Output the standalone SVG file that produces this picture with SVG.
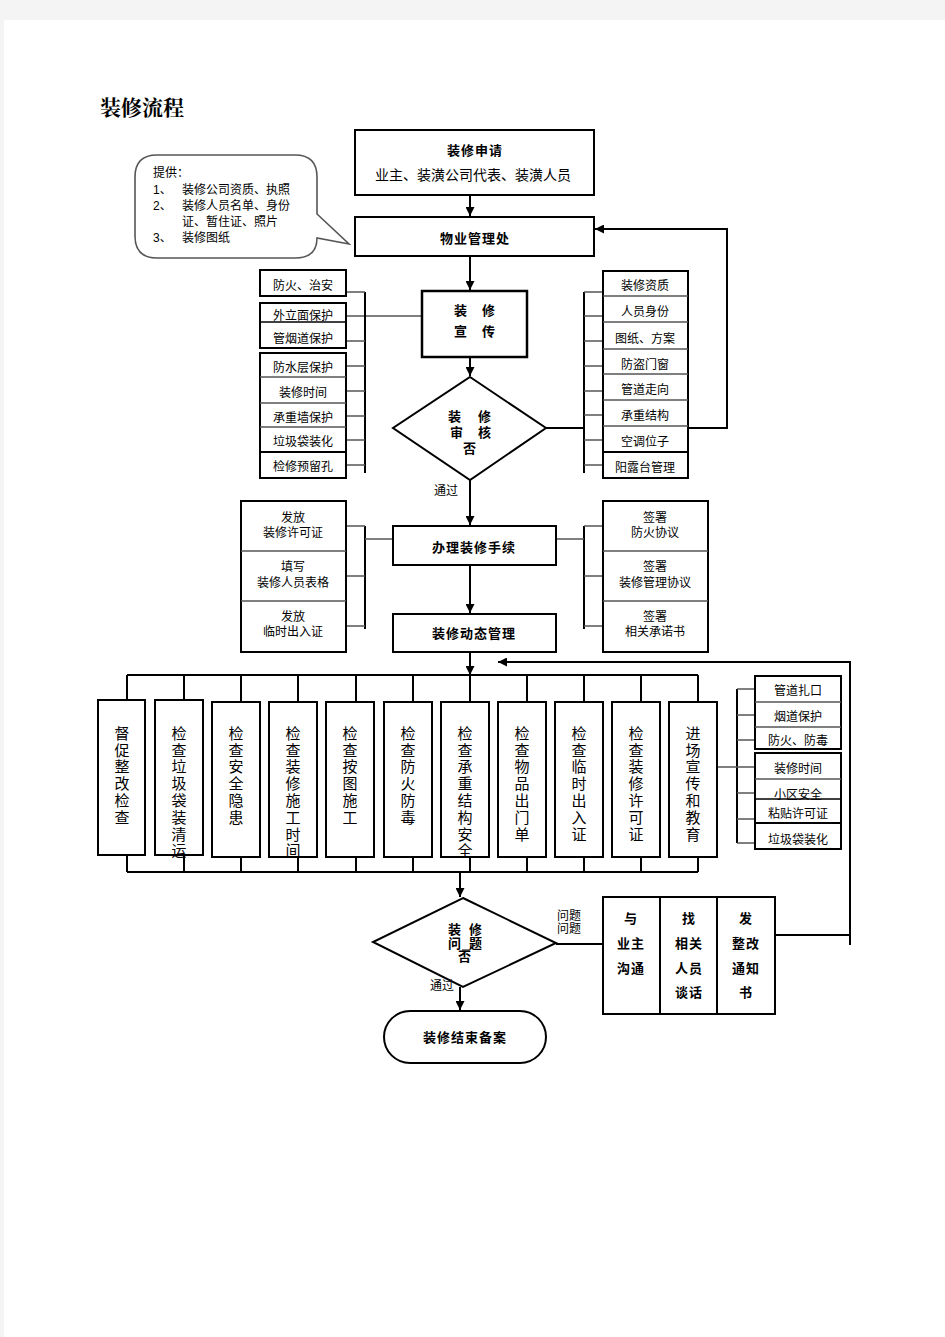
<svg xmlns="http://www.w3.org/2000/svg" width="945" height="1337" viewBox="0 0 945 1337">
<defs>
<marker id="ah" viewBox="0 0 10 10" refX="10" refY="5" markerWidth="9" markerHeight="9" markerUnits="userSpaceOnUse" orient="auto">
<path d="M0,0 L10,5 L0,10 Z" fill="#000"/>
</marker>
<style>
text{font-family:"Liberation Sans","Noto Sans CJK SC",sans-serif;fill:#000;dominant-baseline:central;text-anchor:middle}
.t12{font-size:12px}
.b13{font-size:13px;font-weight:bold;letter-spacing:1px}
.v{font-size:15px}
.box{fill:#fff;stroke:#000;stroke-width:2}
.thin{fill:none;stroke:#000;stroke-width:1.6}
.ln{fill:none;stroke:#000;stroke-width:2}
.gl{fill:none;stroke:#555;stroke-width:1.5}
.arr{fill:none;stroke:#000;stroke-width:2;marker-end:url(#ah)}
</style>
</defs>
<rect x="0" y="0" width="945" height="1337" fill="#f4f4f4"/>
<rect x="4" y="20" width="941" height="1317" fill="#fff"/>
<text x="100" y="106" style="font-family:'Noto Serif CJK SC','Noto Sans CJK SC',serif;font-size:21px;font-weight:bold;text-anchor:start">装修流程</text>

<g id="connectors">
<line class="arr" x1="470" y1="195" x2="470" y2="216"/>
<line class="arr" x1="470" y1="256" x2="470" y2="290"/>
<line class="arr" x1="470" y1="357" x2="470" y2="376"/>
<line class="arr" x1="470" y1="480" x2="470" y2="525"/>
<line class="arr" x1="470" y1="565" x2="470" y2="613"/>
<line class="arr" x1="470" y1="652" x2="470" y2="675"/>
<polyline class="arr" points="688,428 727,428 727,229 595,229"/>
<polyline class="arr" points="775,935 850,935 850,945 850,662 498,662"/>
<line class="ln" x1="546" y1="428" x2="584" y2="428"/>
<line class="gl" x1="346" y1="316" x2="422" y2="316"/>
<line class="ln" x1="365" y1="292" x2="365" y2="473"/>
<path class="gl" d="M346,292H365M346,341H365M346,366H365M346,391H365M346,416H365M346,440H365M346,465H365"/>
<line class="ln" x1="584" y1="292" x2="584" y2="473"/>
<path class="gl" d="M584,292H603M584,316H603M584,341H603M584,366H603M584,391H603M584,415H603M584,440H603M584,465H603"/>
<line class="ln" x1="365" y1="526" x2="365" y2="629"/>
<path class="gl" d="M346,526H365M346,576H365M346,626H365M365,539H393"/>
<line class="ln" x1="584" y1="526" x2="584" y2="629"/>
<path class="gl" d="M584,526H603M584,576H603M584,626H603M556,539H584"/>
<line class="ln" x1="127" y1="675" x2="698" y2="675"/>
<line class="ln" x1="127" y1="872" x2="698" y2="872"/>
<path class="ln" d="M127,675V700M184,675V700M241,675V702M298,675V702M356,675V702M413,675V702M470,675V702M527,675V702M584,675V702M641,675V702M698,675V702"/>
<path class="ln" d="M127,847V872M184,847V872M241,849V872M298,849V872M356,849V872M413,849V872M470,849V872M527,849V872M584,849V872M641,849V872M698,849V872"/>
<line class="ln" x1="737" y1="689" x2="737" y2="843"/>
<path class="gl" d="M737,689H755M737,715H755M737,740H755M737,767H755M737,793H755M737,819H755M737,843H755M717,767H737"/>
<line class="arr" x1="460" y1="872" x2="460" y2="897"/>
<line class="ln" x1="556" y1="944" x2="603" y2="944"/>
<line class="arr" x1="460" y1="987" x2="460" y2="1010"/>
</g>

<g id="bubble">
<path d="M157,155 H295 Q317,155 317,177 V214 L349,244 L317,238 Q317,258 295,258 H157 Q135,258 135,236 V177 Q135,155 157,155 Z" fill="#fff" stroke="#555" stroke-width="1.6"/>
<g class="t12" style="text-anchor:start">
<text x="153" y="173" style="text-anchor:start">提供：</text>
<text x="153" y="190" style="text-anchor:start">1、</text><text x="182" y="190" style="text-anchor:start">装修公司资质、执照</text>
<text x="153" y="206" style="text-anchor:start">2、</text><text x="182" y="206" style="text-anchor:start">装修人员名单、身份</text>
<text x="182" y="222" style="text-anchor:start">证、暂住证、照片</text>
<text x="153" y="238" style="text-anchor:start">3、</text><text x="182" y="238" style="text-anchor:start">装修图纸</text>
</g>
</g>

<g id="apply">
<rect class="box" x="355" y="130" width="239" height="65"/>
<text class="b13" x="475" y="150">装修申请</text>
<text x="473" y="175" style="font-size:14px">业主、装潢公司代表、装潢人员</text>
</g>

<g id="property">
<rect class="box" x="355" y="217" width="239" height="39"/>
<text class="b13" x="475" y="238">物业管理处</text>
</g>

<g id="publicity">
<rect class="box" x="422" y="291" width="105" height="66" style="stroke-width:2.5"/>
<text class="b13" x="461" y="310">装</text><text class="b13" x="489" y="310">修</text>
<text class="b13" x="461" y="331">宣</text><text class="b13" x="489" y="331">传</text>
</g>

<g id="left-list">
<rect class="box" x="260" y="270" width="86" height="26"/>
<text class="t12" x="303" y="286">防火、治安</text>
<rect class="box" x="260" y="303" width="86" height="45"/>
<text class="t12" x="303" y="316">外立面保护</text>
<line class="thin" x1="260" y1="322" x2="346" y2="322"/>
<text class="t12" x="303" y="339">管烟道保护</text>
<rect class="box" x="260" y="353" width="86" height="99"/>
<text class="t12" x="303" y="368">防水层保护</text>
<line class="gl" x1="260" y1="377" x2="346" y2="377"/>
<text class="t12" x="303" y="393">装修时间</text>
<line class="gl" x1="260" y1="403" x2="346" y2="403"/>
<text class="t12" x="303" y="418">承重墙保护</text>
<line class="gl" x1="260" y1="427" x2="346" y2="427"/>
<text class="t12" x="303" y="442">垃圾袋装化</text>
<rect class="box" x="260" y="452" width="86" height="26"/>
<text class="t12" x="303" y="467">检修预留孔</text>
</g>

<g id="right-list">
<rect class="box" x="603" y="271" width="85" height="207"/>
<path class="gl" d="M603,296H688M603,322H688M603,349H688M603,374H688M603,400H688M603,426H688"/>
<line class="ln" x1="603" y1="452" x2="688" y2="452"/>
<text class="t12" x="645" y="286">装修资质</text>
<text class="t12" x="645" y="312">人员身份</text>
<text class="t12" x="645" y="339">图纸、方案</text>
<text class="t12" x="645" y="365">防盗门窗</text>
<text class="t12" x="645" y="390">管道走向</text>
<text class="t12" x="645" y="416">承重结构</text>
<text class="t12" x="645" y="442">空调位子</text>
<text class="t12" x="645" y="468">阳露台管理</text>
</g>

<g id="review">
<polygon points="470,377 546,428 470,480 393,428" fill="#fff" stroke="#000" stroke-width="2"/>
<text class="b13" x="455" y="416">装</text><text class="b13" x="485" y="416">修</text>
<text class="b13" x="457" y="432">审</text><text class="b13" x="485" y="432">核</text>
<text class="b13" x="470" y="448">否</text>
<text class="t12" x="446" y="491">通过</text>
</g>

<g id="procedures">
<rect class="box" x="393" y="526" width="163" height="39"/>
<text class="b13" x="474" y="547">办理装修手续</text>
</g>

<g id="left-docs">
<rect class="box" x="241" y="501" width="105" height="151"/>
<path class="gl" d="M241,551H346M241,601H346"/>
<text class="t12" x="293" y="518">发放</text><text class="t12" x="293" y="533">装修许可证</text>
<text class="t12" x="293" y="567">填写</text><text class="t12" x="293" y="583">装修人员表格</text>
<text class="t12" x="293" y="617">发放</text><text class="t12" x="293" y="632">临时出入证</text>
</g>

<g id="right-docs">
<rect class="box" x="603" y="501" width="105" height="151"/>
<path class="gl" d="M603,551H708M603,601H708"/>
<text class="t12" x="655" y="518">签署</text><text class="t12" x="655" y="533">防火协议</text>
<text class="t12" x="655" y="567">签署</text><text class="t12" x="655" y="583">装修管理协议</text>
<text class="t12" x="655" y="617">签署</text><text class="t12" x="655" y="632">相关承诺书</text>
</g>

<g id="dynamic">
<rect class="box" x="393" y="614" width="163" height="38"/>
<text class="b13" x="474" y="633">装修动态管理</text>
</g>

<g id="col1"><rect class="box" x="98" y="700" width="47" height="155"/>
<text class="v"><tspan x="122" y="733">督</tspan><tspan x="122" y="750">促</tspan><tspan x="122" y="766">整</tspan><tspan x="122" y="783">改</tspan><tspan x="122" y="800">检</tspan><tspan x="122" y="817">查</tspan></text></g>
<g id="col2"><rect class="box" x="155" y="700" width="48" height="155"/>
<text class="v"><tspan x="179" y="733">检</tspan><tspan x="179" y="750">查</tspan><tspan x="179" y="766">垃</tspan><tspan x="179" y="783">圾</tspan><tspan x="179" y="800">袋</tspan><tspan x="179" y="817">装</tspan><tspan x="179" y="834">清</tspan><tspan x="179" y="850">运</tspan></text></g>
<g id="col3"><rect class="box" x="212" y="702" width="48" height="155"/>
<text class="v"><tspan x="236" y="733">检</tspan><tspan x="236" y="750">查</tspan><tspan x="236" y="766">安</tspan><tspan x="236" y="783">全</tspan><tspan x="236" y="800">隐</tspan><tspan x="236" y="817">患</tspan></text></g>
<g id="col4"><rect class="box" x="269" y="702" width="48" height="155"/>
<text class="v"><tspan x="293" y="733">检</tspan><tspan x="293" y="750">查</tspan><tspan x="293" y="766">装</tspan><tspan x="293" y="783">修</tspan><tspan x="293" y="800">施</tspan><tspan x="293" y="817">工</tspan><tspan x="293" y="834">时</tspan><tspan x="293" y="850">间</tspan></text></g>
<g id="col5"><rect class="box" x="326" y="702" width="48" height="155"/>
<text class="v"><tspan x="350" y="733">检</tspan><tspan x="350" y="750">查</tspan><tspan x="350" y="766">按</tspan><tspan x="350" y="783">图</tspan><tspan x="350" y="800">施</tspan><tspan x="350" y="817">工</tspan></text></g>
<g id="col6"><rect class="box" x="384" y="702" width="48" height="155"/>
<text class="v"><tspan x="408" y="733">检</tspan><tspan x="408" y="750">查</tspan><tspan x="408" y="766">防</tspan><tspan x="408" y="783">火</tspan><tspan x="408" y="800">防</tspan><tspan x="408" y="817">毒</tspan></text></g>
<g id="col7"><rect class="box" x="441" y="702" width="48" height="155"/>
<text class="v"><tspan x="465" y="733">检</tspan><tspan x="465" y="750">查</tspan><tspan x="465" y="766">承</tspan><tspan x="465" y="783">重</tspan><tspan x="465" y="800">结</tspan><tspan x="465" y="817">构</tspan><tspan x="465" y="834">安</tspan><tspan x="465" y="850">全</tspan></text></g>
<g id="col8"><rect class="box" x="498" y="702" width="48" height="155"/>
<text class="v"><tspan x="522" y="733">检</tspan><tspan x="522" y="750">查</tspan><tspan x="522" y="766">物</tspan><tspan x="522" y="783">品</tspan><tspan x="522" y="800">出</tspan><tspan x="522" y="817">门</tspan><tspan x="522" y="834">单</tspan></text></g>
<g id="col9"><rect class="box" x="555" y="702" width="48" height="155"/>
<text class="v"><tspan x="579" y="733">检</tspan><tspan x="579" y="750">查</tspan><tspan x="579" y="766">临</tspan><tspan x="579" y="783">时</tspan><tspan x="579" y="800">出</tspan><tspan x="579" y="817">入</tspan><tspan x="579" y="834">证</tspan></text></g>
<g id="col10"><rect class="box" x="612" y="702" width="48" height="155"/>
<text class="v"><tspan x="636" y="733">检</tspan><tspan x="636" y="750">查</tspan><tspan x="636" y="766">装</tspan><tspan x="636" y="783">修</tspan><tspan x="636" y="800">许</tspan><tspan x="636" y="817">可</tspan><tspan x="636" y="834">证</tspan></text></g>
<g id="col11"><rect class="box" x="669" y="702" width="48" height="155"/>
<text class="v"><tspan x="693" y="733">进</tspan><tspan x="693" y="750">场</tspan><tspan x="693" y="766">宣</tspan><tspan x="693" y="783">传</tspan><tspan x="693" y="800">和</tspan><tspan x="693" y="817">教</tspan><tspan x="693" y="834">育</tspan></text></g>

<g id="entry-list">
<rect class="box" x="755" y="676" width="86" height="73"/>
<path class="gl" d="M755,702H841M755,727H841"/>
<text class="t12" x="798" y="691">管道扎口</text>
<text class="t12" x="798" y="717">烟道保护</text>
<text class="t12" x="798" y="741">防火、防毒</text>
<rect class="box" x="755" y="753" width="86" height="96"/>
<line class="gl" x1="755" y1="779" x2="841" y2="779"/>
<line class="thin" x1="755" y1="799" x2="841" y2="799"/>
<line class="ln" x1="755" y1="823" x2="841" y2="823"/>
<text class="t12" x="798" y="769">装修时间</text>
<text class="t12" x="798" y="795">小区安全</text>
<text class="t12" x="798" y="814">粘贴许可证</text>
<text class="t12" x="798" y="840">垃圾袋装化</text>
</g>

<g id="inspect">
<polygon points="463,898 556,943 463,987 373,942" fill="#fff" stroke="#000" stroke-width="2"/>
<text class="b13" x="455" y="929">装</text><text class="b13" x="476" y="929">修</text>
<text class="b13" x="455" y="943">问</text><text class="b13" x="476" y="943">题</text>
<line x1="462" y1="950" x2="470" y2="950" stroke="#000" stroke-width="1"/>
<text class="b13" x="465" y="956">否</text>
<text class="t12" x="569" y="916">问题</text>
<text class="t12" x="569" y="929">问题</text>
<text class="t12" x="442" y="986">通过</text>
</g>

<g id="actions">
<rect class="box" x="603" y="897" width="172" height="117"/>
<path class="ln" d="M660,897V1014M717,897V1014"/>
<text class="b13" x="631" y="918">与</text><text class="b13" x="631" y="943">业主</text><text class="b13" x="631" y="968">沟通</text>
<text class="b13" x="689" y="918">找</text><text class="b13" x="689" y="943">相关</text><text class="b13" x="689" y="968">人员</text><text class="b13" x="689" y="992">谈话</text>
<text class="b13" x="746" y="918">发</text><text class="b13" x="746" y="943">整改</text><text class="b13" x="746" y="968">通知</text><text class="b13" x="746" y="992">书</text>
</g>

<g id="finish">
<rect class="box" x="384" y="1011" width="162" height="52" rx="26" ry="26"/>
<text class="b13" x="465" y="1037">装修结束备案</text>
</g>
</svg>
